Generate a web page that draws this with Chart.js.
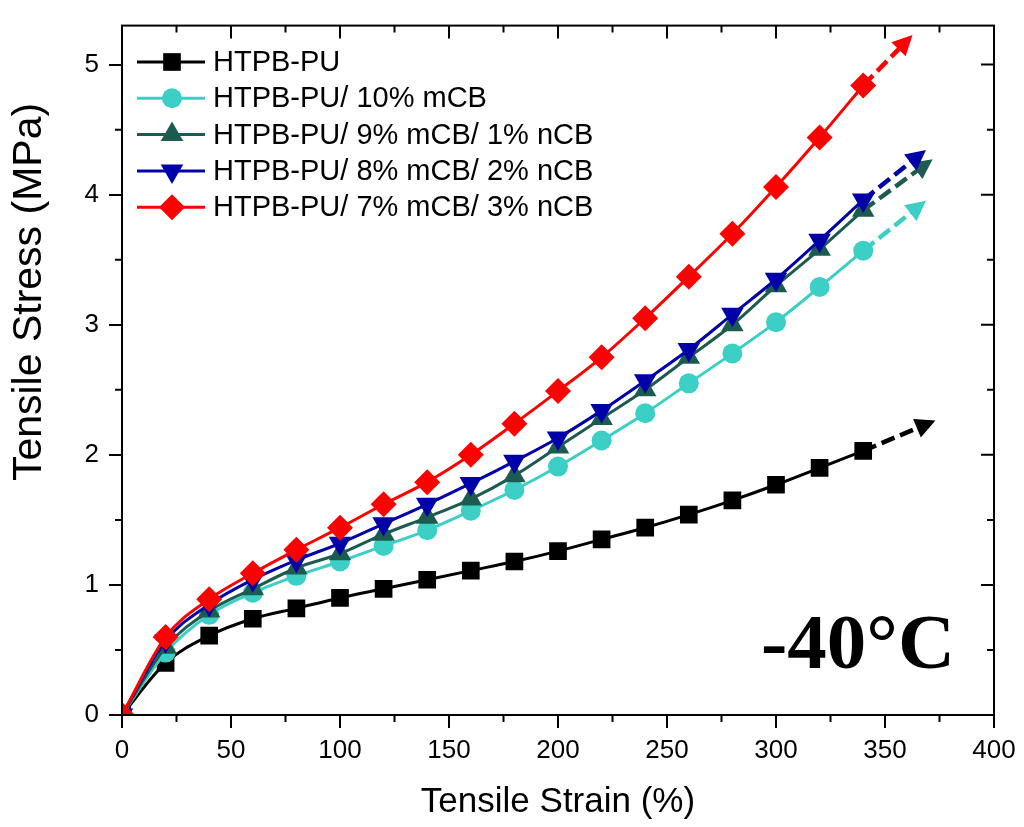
<!DOCTYPE html>
<html>
<head>
<meta charset="utf-8">
<script src="https://cdn.jsdelivr.net/npm/chart.js@4/dist/chart.umd.min.js"></script>
<style>
  body { margin: 0; background: #fff; }
  #wrap { width: 1024px; height: 827px; }
</style>
</head>
<body>
<div id="wrap"><canvas id="myChart"></canvas></div>
<script>
// strain (%) where markers sit
const strain = [0, 20, 40, 60, 80, 100, 120, 140, 160, 180, 200, 220, 240, 260, 280, 300, 320, 340];

const labels = [
  "HTPB-PU",
  "HTPB-PU/ 10% mCB",
  "HTPB-PU/ 9% mCB/ 1% nCB",
  "HTPB-PU/ 8% mCB/ 2% nCB",
  "HTPB-PU/ 7% mCB/ 3% nCB",
];

// tensile stress (MPa)
const stressPU = [0, 0.40, 0.61, 0.74, 0.82, 0.90, 0.97, 1.04, 1.11, 1.18, 1.26, 1.35, 1.44, 1.54, 1.65, 1.77, 1.90, 2.03];
const stress10m = [0, 0.48, 0.77, 0.94, 1.07, 1.18, 1.30, 1.42, 1.57, 1.73, 1.91, 2.11, 2.32, 2.55, 2.78, 3.02, 3.29, 3.57];
const stress9m1n = [0, 0.52, 0.80, 0.97, 1.13, 1.24, 1.39, 1.52, 1.66, 1.84, 2.06, 2.28, 2.50, 2.75, 3.00, 3.30, 3.58, 3.88];
const stress8m2n = [0, 0.57, 0.85, 1.04, 1.19, 1.32, 1.47, 1.62, 1.78, 1.95, 2.13, 2.34, 2.57, 2.81, 3.08, 3.35, 3.65, 3.96];
const stress7m3n = [0, 0.60, 0.89, 1.09, 1.27, 1.44, 1.62, 1.79, 2.00, 2.24, 2.49, 2.75, 3.05, 3.37, 3.70, 4.06, 4.44, 4.84];

// where the dashed arrows end: [strain, stress]
const arrowTips = [[371, 2.25], [367, 3.93], [370, 4.25], [367, 4.32], [361, 5.20]];

const xTicks = [0, 50, 100, 150, 200, 250, 300, 350, 400];
const yTicks = [0, 1, 2, 3, 4, 5];

const allStress = [stressPU, stress10m, stress9m1n, stress8m2n, stress7m3n];
const colors = ["#000000", "#3ccfc6", "#1c5c50", "#0000a8", "#ff0000"];
const markers = [
  { style: "rect", r: 12.5, rot: 0 },
  { style: "circle", r: 10, rot: 0 },
  { style: "triangle", r: 13, rot: 0 },
  { style: "triangle", r: 13, rot: 180 },
  { style: "rectRot", r: 13, rot: 0 },
];
const fontSans = "'Liberation Sans', Arial, sans-serif";

let datasets = [];
allStress.forEach((ys, i) => {
  datasets.push({
    label: labels[i],
    data: strain.map((x, k) => ({ x: x, y: ys[k] })),
    borderColor: colors[i],
    backgroundColor: colors[i],
    borderWidth: 3,
    pointStyle: markers[i].style,
    pointRadius: markers[i].r,
    pointRotation: markers[i].rot,
    pointBorderWidth: 0,
    cubicInterpolationMode: "monotone",
    order: 10 - i,
  });
  let last = strain.length - 1;
  datasets.push({
    label: labels[i] + " arrow",
    arrow: true,
    data: [{ x: strain[last], y: ys[last] }, { x: arrowTips[i][0], y: arrowTips[i][1] }],
    borderColor: colors[i],
    backgroundColor: colors[i],
    borderWidth: 4.5,
    borderDash: [14, 6],
    pointRadius: 0,
    order: 20 - i,
  });
});

const frame = {
  id: "frame",
  afterDatasetsDraw(chart) {
    let ctx = chart.ctx;
    let a = chart.chartArea;
    let xs = chart.scales.x;
    let ys = chart.scales.y;
    ctx.save();
    ctx.strokeStyle = "#000";
    ctx.lineWidth = 2;
    ctx.strokeRect(a.left, a.top, a.right - a.left, a.bottom - a.top);
    ctx.beginPath();
    for (let v = 0; v <= 400; v += 25) {
      let px = xs.getPixelForValue(v);
      let major = v % 50 == 0;
      if (!major) {
        ctx.moveTo(px, a.bottom);
        ctx.lineTo(px, a.bottom + 7);
      }
      ctx.moveTo(px, a.top);
      ctx.lineTo(px, a.top + (major ? 13 : 7));
    }
    for (let v = 0; v <= 5; v += 0.5) {
      let py = ys.getPixelForValue(v);
      let major = Number.isInteger(v);
      if (!major) {
        ctx.moveTo(a.left, py);
        ctx.lineTo(a.left - 7, py);
      }
      ctx.moveTo(a.right, py);
      ctx.lineTo(a.right - (major ? 13 : 7), py);
    }
    ctx.stroke();

    // arrow heads at the end of dashed segments
    chart.data.datasets.forEach((ds, i) => {
      if (!ds.arrow) return;
      let pts = chart.getDatasetMeta(i).data;
      let p0 = pts[0], p1 = pts[pts.length - 1];
      let ang = Math.atan2(p1.y - p0.y, p1.x - p0.x);
      ctx.save();
      ctx.translate(p1.x, p1.y);
      ctx.rotate(ang);
      ctx.fillStyle = ds.borderColor;
      ctx.beginPath();
      ctx.moveTo(5, 0);
      ctx.lineTo(-15, -10);
      ctx.lineTo(-15, 10);
      ctx.closePath();
      ctx.fill();
      ctx.restore();
    });

    // legend
    let lx = a.left + 15;
    let y0 = 62;
    labels.forEach((t, i) => {
      let y = y0 + i * 36.3;
      ctx.strokeStyle = colors[i];
      ctx.lineWidth = 3;
      ctx.beginPath();
      ctx.moveTo(lx, y);
      ctx.lineTo(lx + 68, y);
      ctx.stroke();
      ctx.fillStyle = colors[i];
      Chart.helpers.drawPoint(ctx, {
        pointStyle: markers[i].style,
        rotation: markers[i].rot,
        radius: markers[i].r,
        borderWidth: 0,
      }, lx + 35, y);
      ctx.fillStyle = "#000";
      ctx.font = "29px " + fontSans;
      ctx.textBaseline = "middle";
      ctx.textAlign = "left";
      ctx.fillText(t, lx + 76, y + 1);
    });

    // y axis title, placed as in the picture (above the middle)
    ctx.save();
    ctx.translate(30, 292);
    ctx.rotate(-Math.PI / 2);
    ctx.fillStyle = "#000";
    ctx.font = "41px " + fontSans;
    ctx.textAlign = "center";
    ctx.textBaseline = "middle";
    ctx.fillText("Tensile Stress (MPa)", 0, 0);
    ctx.restore();

    ctx.fillStyle = "#000";
    ctx.font = "bold 79px 'Liberation Serif', 'Times New Roman', serif";
    ctx.textAlign = "left";
    ctx.textBaseline = "alphabetic";
    ctx.fillText("-40\u00B0C", 761, 668);
    ctx.restore();
  },
};

let ctx = document.getElementById("myChart").getContext("2d");
let chart = new Chart(ctx, {
  type: "line",
  data: { datasets: datasets },
  plugins: [frame],
  options: {
    responsive: true,
    maintainAspectRatio: false,
    animation: false,
    layout: { padding: { top: 13, right: 30, left: 0, bottom: 0 } },
    plugins: {
      legend: { display: false },
      tooltip: { enabled: false },
    },
    scales: {
      x: {
        type: "linear",
        min: 0,
        max: 400,
        afterBuildTicks: (s) => {
          s.ticks = xTicks.map((v) => ({ value: v }));
        },
        afterFit: (s) => {
          s.height = 827 - 715;
        },
        grid: { drawOnChartArea: false, drawTicks: true, tickLength: 13, color: "#000", lineWidth: 2 },
        border: { display: true, color: "#000", width: 2 },
        ticks: {
          color: "#000",
          padding: 7,
          maxRotation: 0,
          font: { size: 26, family: fontSans },
        },
        title: {
          display: true,
          text: "Tensile Strain (%)",
          color: "#000",
          padding: { top: 0, bottom: 4 },
          font: { size: 35, family: fontSans },
        },
      },
      y: {
        type: "linear",
        min: 0,
        max: 5.3,
        afterBuildTicks: (s) => {
          s.ticks = yTicks.map((v) => ({ value: v }));
        },
        afterFit: (s) => {
          s.width = 122;
        },
        grid: { drawOnChartArea: false, drawTicks: true, tickLength: 13, color: "#000", lineWidth: 2 },
        border: { display: true, color: "#000", width: 2 },
        ticks: {
          color: "#000",
          padding: 10,
          font: { size: 26, family: fontSans },
        },
        title: { display: false },
      },
    },
  },
});
</script>
</body>
</html>
